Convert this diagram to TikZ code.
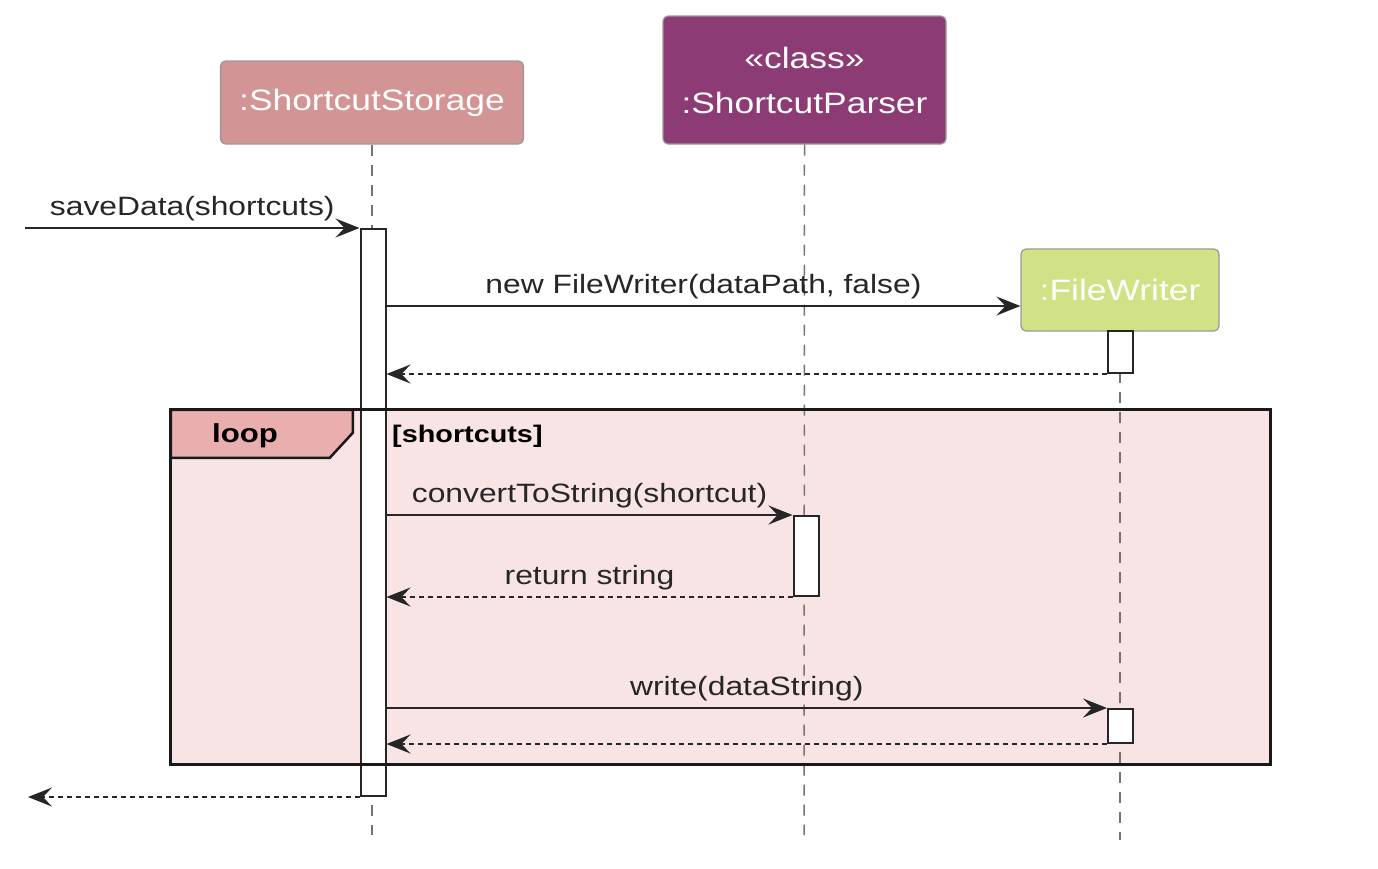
\documentclass[tikz,border=0pt]{standalone}
\usepackage{fontspec}
\setmainfont{Liberation Sans}[FakeStretch=1.2]
\usetikzlibrary{arrows.meta}

\definecolor{storagepink}{HTML}{D29494}
\definecolor{parserpurple}{HTML}{8C3B75}
\definecolor{writergreen}{HTML}{D0E285}
\definecolor{loopfill}{HTML}{F8E4E4}
\definecolor{looptab}{HTML}{EAAEAE}

\tikzset{
  actorbox/.style={draw=black!40, line width=1.2pt, rounded corners=5pt, text=white,
    font=\fontsize{29.5pt}{45pt}\selectfont, align=center, inner sep=0pt},
  actbar/.style={draw=black!85, fill=white, line width=2pt, minimum width=25pt, inner sep=0pt},
  lifeline/.style={draw=black!55, line width=1.5pt, dash pattern=on 11pt off 9pt},
  msg/.style={draw=black!85, line width=2pt, -{Stealth[length=24pt,width=19pt,inset=9pt]}},
  reply/.style={msg, dash pattern=on 5pt off 4pt},
  msglabel/.style={midway, anchor=base, yshift=13pt, text=black!85,
    font=\fontsize{26.5pt}{30pt}\selectfont}
}

\begin{document}
\begin{tikzpicture}[x=1pt, y=-1pt]
    \useasboundingbox (0,0) rectangle (1378,868);
    % participants
    \node[actorbox, fill=storagepink, minimum width=303pt, minimum height=83pt] (storage) at (372,102.5) {:ShortcutStorage};
    \node[actorbox, fill=parserpurple, minimum width=283pt, minimum height=128pt] (parser) at (804.5,80) {«class»\\:ShortcutParser};
    \node[actorbox, fill=writergreen, minimum width=198pt, minimum height=82pt] (writer) at (1120,290) {:FileWriter};
    % loop frame (fill only, border comes later)
    \node[fill=loopfill, minimum width=1099pt, minimum height=354pt, inner sep=0pt] (loop) at (720.5,587) {};
    % lifelines
    \coordinate (storageend) at (372,835);
    \coordinate (parserend) at (804,835);
    \coordinate (writerend) at (1120,840);
    \draw[lifeline] (storage.south) -- (storageend);
    \draw[lifeline] (parser.south) -- (parserend);
    \draw[lifeline] (writer.south) -- (writerend);
    % activations
    \node[actbar, minimum height=567pt] (storageact) at (373,512.5) {};
    \node[actbar, minimum height=42pt] (writerone) at (1120.5,352) {};
    \node[actbar, minimum height=80pt] (parseract) at (806,556) {};
    \node[actbar, minimum height=34pt] (writertwo) at (1120.5,726) {};
    % frame border and tab
    \draw[line width=3pt, draw=black!90] (loop.north west) rectangle (loop.south east);
    \draw[line width=2.5pt, draw=black!90, fill=looptab] (loop.north west) -- ++(182,0) -- ++(0,23) -- ++(-23,25) -- ++(-159,0) -- cycle;
    \node[font=\bfseries\fontsize{26pt}{30pt}\selectfont] (looplabel) at (245,436) {loop};
    \node[anchor=west, inner sep=0pt, font=\bfseries\fontsize{24pt}{28pt}\selectfont] (guard) at (392,436) {[shortcuts]};
    % messages
    \coordinate (caller) at (25,0);
    \coordinate (callerback) at (28,0);
    \coordinate (newrow) at (0,306);
    \draw[msg] (caller |- storageact.north west) -- (storageact.north west) node[msglabel] {saveData(shortcuts)};
    \draw[msg] (storageact.east |- newrow) -- (writer.west |- newrow) node[msglabel] {new FileWriter(dataPath, false)};
    \draw[reply] (writerone.south west) -- (storageact.east |- writerone.south);
    \draw[msg] (storageact.east |- parseract.north) -- (parseract.north west) node[msglabel] {convertToString(shortcut)};
    \draw[reply] (parseract.south west) -- (storageact.east |- parseract.south) node[msglabel] {return string};
    \draw[msg] (storageact.east |- writertwo.north) -- (writertwo.north west) node[msglabel] {write(dataString)};
    \draw[reply] (writertwo.south west) -- (storageact.east |- writertwo.south);
    \draw[reply] (storageact.south west) -- (callerback |- storageact.south west);
\end{tikzpicture}
\end{document}
